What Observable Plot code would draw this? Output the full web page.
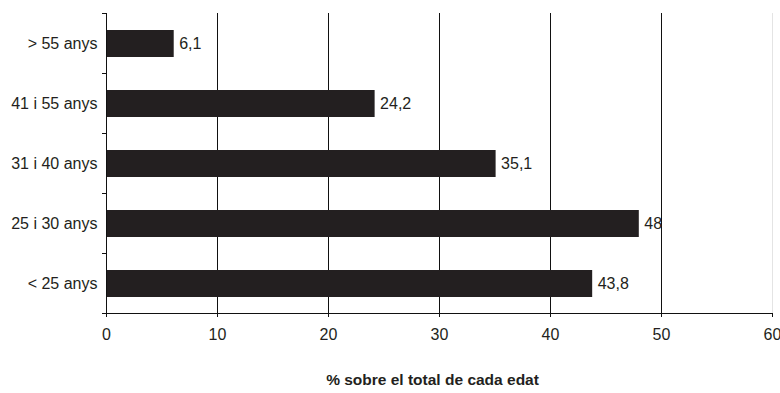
<!DOCTYPE html>
<html><head><meta charset="utf-8">
<script src="https://cdn.jsdelivr.net/npm/d3@7"></script>
<script src="https://cdn.jsdelivr.net/npm/@observablehq/plot@0.6"></script>
<style>body{margin:0;background:#fff} svg{font-family:"Liberation Sans",Arial,sans-serif}</style>
</head><body><div id="chart"></div>
<script>
const categories = ["> 55 anys", "41 i 55 anys", "31 i 40 anys", "25 i 30 anys", "< 25 anys"];
const values = [6.1, 24.2, 35.1, 48, 43.8];
const valueLabels = ["6,1", "24,2", "35,1", "48", "43,8"];
const xTicks = [0, 10, 20, 30, 40, 50, 60];
const axisTitle = "% sobre el total de cada edat";

const data = categories.map((c, i) => ({cat: c, i, v: values[i], label: valueLabels[i]}));
const boundaries = d3.range(categories.length + 1);
const centers = categories.map((c, i) => i + 0.5);
const n = categories.length;
const fs = 16;

const chart = Plot.plot({
  width: 780, height: 393,
  marginLeft: 106, marginRight: 8, marginTop: 13, marginBottom: 80,
  style: {fontFamily: '"Liberation Sans", Arial, sans-serif', fontSize: fs + "px", color: "#231f20", background: "#fff"},
  x: {domain: [0, 60], label: null},
  y: {domain: [0, n], reverse: true, label: null},
  marks: [
    Plot.ruleX(xTicks.filter(t => t > 0 && t < 60), {stroke: "#111", strokeWidth: 1}),
    Plot.ruleX(xTicks.filter(t => t === 60), {stroke: "#e4e4e4", strokeWidth: 1}),
    Plot.rectX(data, {x1: 0, x2: "v", y1: "i", y2: d => d.i + 1, insetTop: 17, insetBottom: 16, fill: "#231f20"}),
    Plot.text(data, {x: "v", y: d => d.i + 0.5, text: "label", textAnchor: "start", dx: 5, fill: "#231f20", fontSize: fs}),
    Plot.axisY(boundaries, {tickSize: 4, tickFormat: () => "", stroke: "#111", label: null}),
    Plot.axisY(centers, {tickSize: 0, tickPadding: 9, tickFormat: v => categories[Math.floor(v)], fill: "#231f20", fontSize: fs, label: null}),
    Plot.ruleX([0], {stroke: "#111"}),
    Plot.ruleY([n], {stroke: "#111"}),
    Plot.axisX(xTicks, {tickSize: 4, tickPadding: 11, stroke: "#111", fill: "#231f20", fontSize: fs, label: null}),
    Plot.text([axisTitle], {frameAnchor: "bottom", dy: 71, dx: -7, fontWeight: "bold", fill: "#231f20", fontSize: 15.5})
  ]
});
document.getElementById("chart").appendChild(chart);
</script>
</body></html>
